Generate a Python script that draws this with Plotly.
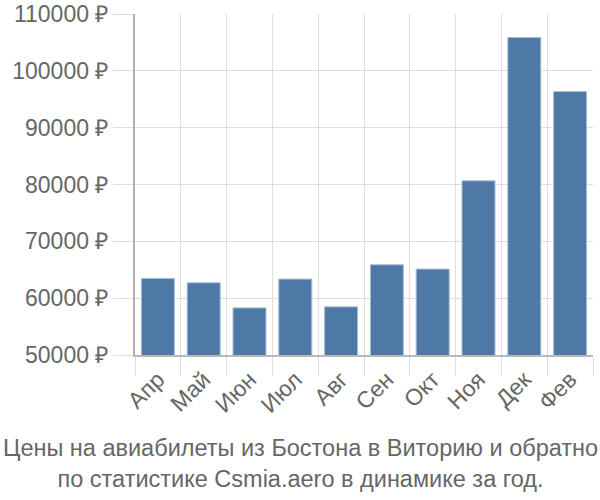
import plotly.graph_objects as go

months = ["Апр", "Май", "Июн", "Июл", "Авг", "Сен", "Окт", "Ноя", "Дек", "Фев"]
prices = [63480, 62700, 58290, 63360, 58470, 65880, 65120, 80650, 105880, 96350]
y_ticks = [50000, 60000, 70000, 80000, 90000, 100000, 110000]
title_lines = ["Цены на авиабилеты из Бостона в Виторию и обратно",
               "по статистике Csmia.aero в динамике за год."]

font_family = "Liberation Sans, Arial, sans-serif"
text_color = "#666666"
grid_color = "#dddddd"

fig = go.Figure(go.Bar(
    x=months, y=prices,
    marker=dict(color="#4e79a7", line=dict(color="#a9bdd6", width=1)),
))

fig.update_layout(
    width=600, height=500,
    margin=dict(l=135, r=7, t=14, b=145),
    plot_bgcolor="white", paper_bgcolor="white",
    bargap=0.28,
    showlegend=False,
    font=dict(family=font_family, color=text_color, size=23),
)
fig.update_xaxes(
    type="category", tickson="boundaries", automargin=False,
    showgrid=True, gridcolor=grid_color, gridwidth=1,
    ticks="outside", ticklen=19, tickcolor=grid_color,
    tickangle=-45, tickfont=dict(size=23, color=text_color),
    showline=True, linecolor="#b8b8b8", linewidth=2,
)
fig.update_yaxes(
    range=[50000, 110000], tickvals=y_ticks, automargin=False,
    ticktext=[f"{v} ₽" for v in y_ticks],
    showgrid=True, gridcolor=grid_color, gridwidth=1,
    ticks="outside", ticklen=20, tickcolor=grid_color,
    tickfont=dict(size=23, color=text_color),
    showline=True, linecolor="#b0b0b0", linewidth=2,
    zeroline=False,
)
fig.add_annotation(
    text="<br>".join(title_lines), xref="paper", yref="paper",
    x=0.5, y=0, xanchor="center", yanchor="top",
    xshift=-(135 - 7) / 2, yshift=-78,
    showarrow=False, font=dict(size=23.5, color=text_color),
)
fig.write_html("out.html")
